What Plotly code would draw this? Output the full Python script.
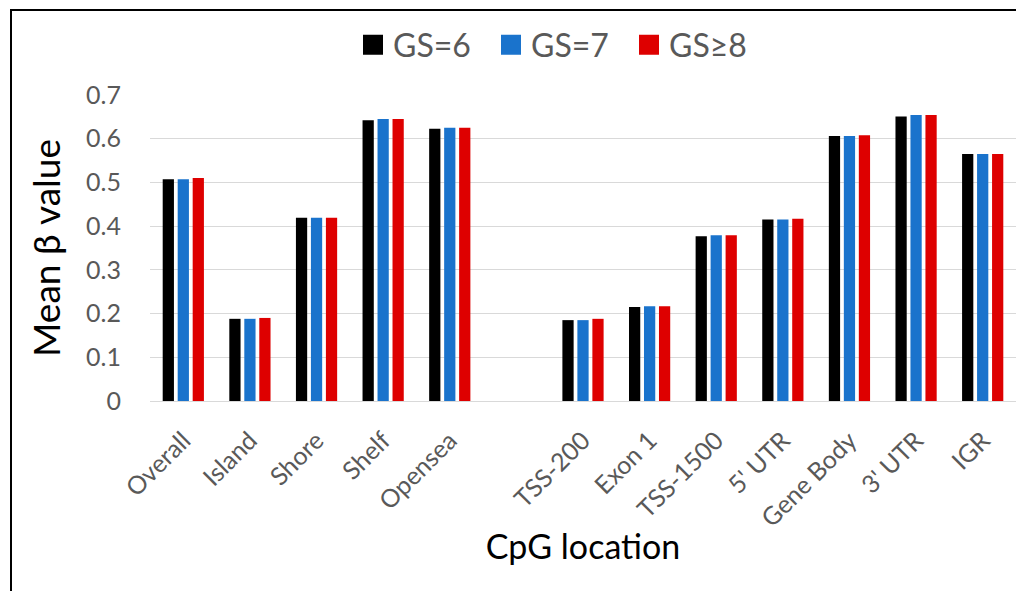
import plotly.graph_objects as go

categories = ["Overall", "Island", "Shore", "Shelf", "Opensea", " ",
              "TSS-200", "Exon 1", "TSS-1500", "5' UTR", "Gene Body", "3' UTR", "IGR"]
gs6 = [0.507, 0.188, 0.419, 0.642, 0.623, None, 0.185, 0.215, 0.377, 0.415, 0.606, 0.651, 0.565]
gs7 = [0.507, 0.188, 0.419, 0.645, 0.625, None, 0.185, 0.217, 0.379, 0.415, 0.606, 0.654, 0.565]
gs8 = [0.510, 0.190, 0.419, 0.645, 0.625, None, 0.188, 0.217, 0.379, 0.417, 0.608, 0.654, 0.565]
series_names = ["GS=6", "GS=7", "GS≥8"]
colors = ["#000000", "#1A73CC", "#DE0000"]
y_ticks = [0, 0.1, 0.2, 0.3, 0.4, 0.5, 0.6, 0.7]
y_ticklabels = ["0", "0.1", "0.2", "0.3", "0.4", "0.5", "0.6", "0.7"]

FONT = "Lato"
fig = go.Figure()
for name, vals, col in zip(series_names, [gs6, gs7, gs8], colors):
    fig.add_trace(go.Bar(x=categories, y=vals, name=name, marker=dict(color=col, line=dict(width=0)),
                         showlegend=False))
for name, col in zip(series_names, colors):
    fig.add_trace(go.Scatter(x=[None], y=[None], mode="markers", name=name,
                             marker=dict(symbol="square", size=16, color=col,
                                         line=dict(color=col, width=4))))

L, R, T, B = 150, 0, 95, 190
W, H = 1016, 591
pw, ph = W - L - R, H - T - B

fig.update_layout(
    width=W, height=H,
    margin=dict(l=L, r=R, t=T, b=B, autoexpand=False),
    paper_bgcolor="white", plot_bgcolor="white",
    barmode="group", bargap=0.325, bargroupgap=0.25,
    font=dict(family=FONT, color="#595959"),
    legend=dict(orientation="h", x=(560 - L) / pw, xanchor="center",
                y=(401 - 45) / ph, yanchor="middle",
                font=dict(size=32, color="#595959", family=FONT),
                entrywidth=93, entrywidthmode="pixels",
                bgcolor="rgba(0,0,0,0)"),
    xaxis=dict(type="category", categoryorder="array", categoryarray=categories,
               tickangle=-45, tickfont=dict(size=25, color="#595959", family=FONT),
               showline=True, linecolor="#D9D9D9", linewidth=1, showgrid=False,
               ticks="", ticklabelstandoff=14, automargin=False,
               title=dict(text="CpG location", font=dict(size=34, color="black", family=FONT),
                          standoff=4)),
    yaxis=dict(range=[0, 0.7], tickvals=y_ticks, ticktext=y_ticklabels,
               tickfont=dict(size=25, color="#595959", family=FONT),
               showgrid=True, gridcolor="#D9D9D9", gridwidth=1, zeroline=False,
               showline=False, ticks="", ticklabelstandoff=28, automargin=False,
               title=dict(text="Mean β value", font=dict(size=37, color="black", family=FONT),
                          standoff=14)),
)

fig.add_shape(type="rect", xref="paper", yref="paper",
              x0=(11 - L) / pw, x1=1.2, y0=-0.8, y1=(401 - 10) / ph,
              line=dict(color="black", width=2), fillcolor="rgba(0,0,0,0)", layer="above")

fig.write_html("out.html", config={"displayModeBar": False},
               post_script="document.body.style.margin='0';")
